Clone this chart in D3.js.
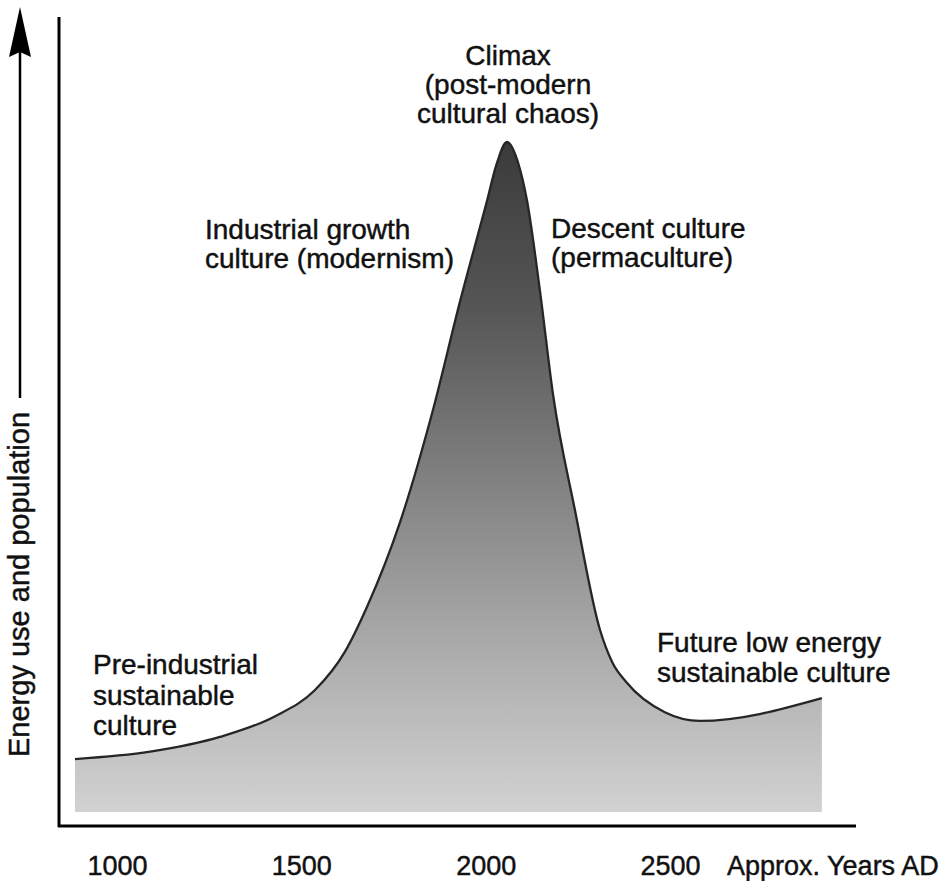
<!DOCTYPE html>
<html>
<head>
<meta charset="utf-8">
<script src="https://cdn.jsdelivr.net/npm/d3@7"></script>
<style>
  html, body { margin: 0; padding: 0; background: #ffffff; }
  svg { display: block; }
  text { font-family: "Liberation Sans", Arial, Helvetica, sans-serif; fill: #111; stroke: #111; stroke-width: 0.45px; }
</style>
</head>
<body>
<svg id="chart" width="952" height="881"></svg>
<script>
// ---- data ----
const years  = [886, 1090, 1279, 1429, 1537, 1618, 1678, 1768, 1857, 1930, 2004, 2028,
                2058, 2088, 2112, 2147, 2183, 2242, 2310, 2343, 2383, 2486, 2581, 2912];
const energy = [7.9, 9.0, 11.2, 14.3, 18.2, 23.9, 30.6, 43.3, 60.0, 76.1, 91.3, 96.4,
                100, 96.9, 91.3, 77.9, 62.2, 45.1, 27.2, 22.4, 19.3, 14.9, 13.6, 17.0];
const tickYears  = [1000, 1500, 2000, 2500];
const tickLabels = ["1000", "1500", "2000", "2500"];
const xTitle = "Approx. Years AD";
const yTitle = "Energy use and population";
const labelClimax = ["Climax", "(post-modern", "cultural chaos)"];
const labelIndustrial = ["Industrial growth", "culture (modernism)"];
const labelDescent = ["Descent culture", "(permaculture)"];
const labelPre = ["Pre-industrial", "sustainable", "culture"];
const labelFuture = ["Future low energy", "sustainable culture"];

// ---- drawing ----
const svg = d3.select("#chart");
const x = d3.scaleLinear().domain([1000, 2500]).range([117, 670]);
const y = d3.scaleLinear().domain([0, 100]).range([812, 142]);
const pts = years.map((yr, i) => ({ yr, v: energy[i] }));

const defs = svg.append("defs");
const grad = defs.append("linearGradient")
  .attr("id", "fillGrad").attr("gradientUnits", "userSpaceOnUse")
  .attr("x1", 0).attr("x2", 0).attr("y1", y(100)).attr("y2", y(0));
[[0, "#3a3a3a"], [0.25, "#565656"], [0.5, "#808080"], [0.75, "#aaaaaa"], [1, "#d2d2d2"]]
  .forEach(([o, c]) => grad.append("stop").attr("offset", o).attr("stop-color", c));

const curve = d3.curveMonotoneX;
const area = d3.area().x(d => x(d.yr)).y0(y(0)).y1(d => y(d.v)).curve(curve);
const line = d3.line().x(d => x(d.yr)).y(d => y(d.v)).curve(curve);

svg.append("path").datum(pts).attr("d", area).attr("fill", "url(#fillGrad)");
svg.append("path").datum(pts).attr("d", line)
  .attr("fill", "none").attr("stroke", "#262626").attr("stroke-width", 2.3);

// axes lines
svg.append("line").attr("x1", 59).attr("x2", 59).attr("y1", 17).attr("y2", 827)
  .attr("stroke", "#000").attr("stroke-width", 3);
svg.append("line").attr("x1", 58).attr("x2", 856).attr("y1", 826).attr("y2", 826)
  .attr("stroke", "#000").attr("stroke-width", 3);

// x tick labels via d3 axis
const xAxis = d3.axisBottom(x).tickValues(tickYears).tickSize(0)
  .tickFormat((d, i) => tickLabels[i]);
const gx = svg.append("g").attr("transform", "translate(0,826)").call(xAxis);
gx.select(".domain").remove();
gx.selectAll("text").attr("dy", null).attr("y", 49)
  .style("font-size", "27px").style("fill", "#111").style("stroke", "#111").style("stroke-width", "0.45px")
  .style("font-family", '"Liberation Sans", Arial, sans-serif');

svg.append("text").attr("x", 727).attr("y", 875).style("font-size", "27px").text(xTitle);

// y title with arrow
svg.append("line").attr("x1", 20).attr("x2", 20).attr("y1", 50).attr("y2", 398)
  .attr("stroke", "#000").attr("stroke-width", 2.5);
svg.append("path").attr("d", "M20,7 L31,57 L20,52 L9,57 Z").attr("fill", "#000");
svg.append("text").attr("transform", "translate(29,757) rotate(-90)")
  .style("font-size", "29px").text(yTitle);

// annotations
function block(lines, xpos, y0, lh, anchor) {
  const t = svg.append("text").attr("text-anchor", anchor).style("font-size", "28px");
  lines.forEach((s, i) => t.append("tspan").attr("x", xpos).attr("y", y0 + i * lh).text(s));
}
block(labelClimax, 508, 65, 29, "middle");
block(labelIndustrial, 205, 239, 29, "start");
block(labelDescent, 551, 238, 29, "start");
block(labelPre, 93, 674, 30.5, "start");
block(labelFuture, 657, 652, 30, "start");
</script>
</body>
</html>
